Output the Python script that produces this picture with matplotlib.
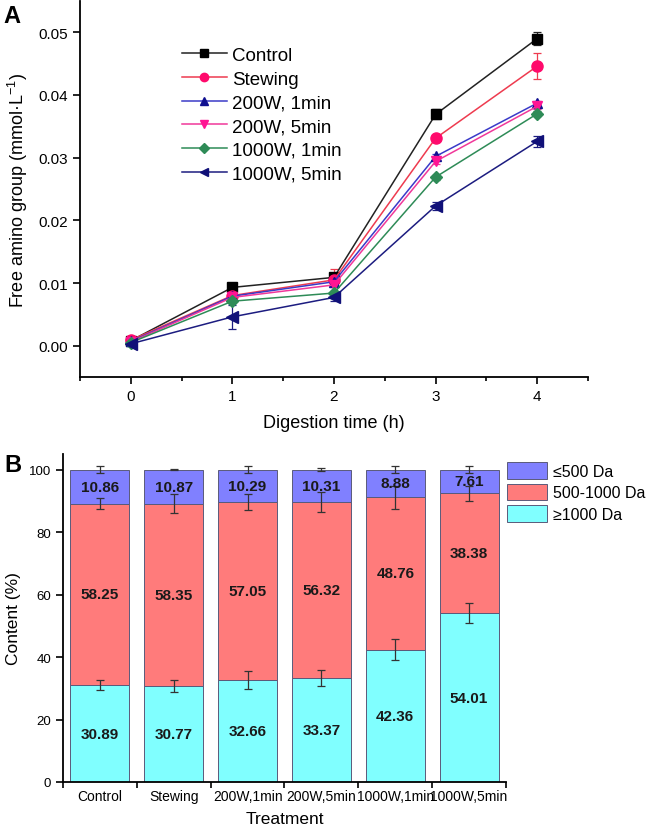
import matplotlib
matplotlib.use('Agg')
import matplotlib.pyplot as plt
import numpy as np

# --------------------------
# global settings
# --------------------------
plt.rcParams['font.family'] = ['Liberation Sans', 'DejaVu Sans']
plt.rcParams['mathtext.fontset'] = 'custom'
plt.rcParams['mathtext.rm'] = 'Liberation Sans'
plt.rcParams['axes.linewidth'] = 1.3

# ==========================
# data, panel A
# ==========================
times = [0, 1, 2, 3, 4]
series_names = ['Control', 'Stewing', '200W, 1min', '200W, 5min', '1000W, 1min', '1000W, 5min']
control = [0.0008, 0.0093, 0.0109, 0.0369, 0.0490]
stewing = [0.0009, 0.0080, 0.0105, 0.0331, 0.0446]
w200_1 = [0.0007, 0.0079, 0.0102, 0.0302, 0.0387]
w200_5 = [0.0006, 0.0077, 0.0097, 0.0294, 0.0382]
w1000_1 = [0.0005, 0.0071, 0.0084, 0.0269, 0.0370]
w1000_5 = [0.0003, 0.0046, 0.0077, 0.0223, 0.0326]
control_err = [0.0002, 0.0003, 0.0003, 0.0008, 0.0010]
stewing_err = [0.0002, 0.0004, 0.0018, 0.0005, 0.0021]
w200_1_err = [0.0002, 0.0003, 0.0003, 0.0004, 0.0004]
w200_5_err = [0.0002, 0.0003, 0.0003, 0.0004, 0.0004]
w1000_1_err = [0.0002, 0.0003, 0.0003, 0.0004, 0.0004]
w1000_5_err = [0.0002, 0.0019, 0.0005, 0.0006, 0.0009]

# ==========================
# data, panel B
# ==========================
treatments = ['Control', 'Stewing', '200W,1min', '200W,5min', '1000W,1min', '1000W,5min']
big = [30.89, 30.77, 32.66, 33.37, 42.36, 54.01]      # >=1000 Da
mid = [58.25, 58.35, 57.05, 56.32, 48.76, 38.38]      # 500-1000 Da
small = [10.86, 10.87, 10.29, 10.31, 8.88, 7.61]      # <=500 Da
big_err = [1.6, 2.0, 2.8, 2.5, 3.4, 3.2]
mid_err = [1.9, 3.0, 2.5, 3.2, 3.6, 2.4]
small_err = [1.2, 0.2, 1.0, 0.6, 1.2, 1.0]

fig = plt.figure(figsize=(6.46, 8.29), dpi=100)

# --------------------------
# panel A: line chart
# --------------------------
axA = fig.add_axes([0.1238, 0.544, 0.7864, 0.4536])
line_data = [control, stewing, w200_1, w200_5, w1000_1, w1000_5]
err_data = [control_err, stewing_err, w200_1_err, w200_5_err, w1000_1_err, w1000_5_err]
line_cols = ['#222222', '#ee3b4f', '#3a3ac8', '#f0389a', '#2e8b57', '#1c1c80']
mark_cols = ['#000000', '#ff0a6c', '#101090', '#ff1493', '#2e8b57', '#101078']
markers = ['s', 'o', '^', 'v', 'D', '<']
msizes = [7, 8, 7.5, 7.5, 6.5, 8]
for vals, errs, name, lc, mc, mk, ms in zip(line_data, err_data, series_names,
                                            line_cols, mark_cols, markers, msizes):
    axA.errorbar(times, vals, yerr=errs, color=lc, lw=1.1, marker=mk, ms=ms,
                 mfc=mc, mec=mc, ecolor=lc, elinewidth=0.9, capsize=3,
                 capthick=0.9, label=name)

axA.set_xlim(-0.5, 4.5)
axA.set_ylim(-0.005, 0.055)
axA.set_xticks([0, 1, 2, 3, 4])
axA.set_xticks([-0.5, 0.5, 1.5, 2.5, 3.5, 4.5], minor=True)
axA.set_yticks([0.00, 0.01, 0.02, 0.03, 0.04, 0.05])
axA.set_yticklabels(['0.00', '0.01', '0.02', '0.03', '0.04', '0.05'])
axA.spines['top'].set_visible(False)
axA.spines['right'].set_visible(False)
axA.tick_params(axis='both', which='major', labelsize=11, length=5, width=1.2)
axA.tick_params(axis='x', which='minor', length=3, width=1.2)
axA.set_xlabel('Digestion time (h)', fontsize=13, labelpad=8)
axA.set_ylabel(r'Free amino group (mmol·L$^{-1}$)', fontsize=13, labelpad=6)

handles, labels = axA.get_legend_handles_labels()
handles = [h[0] for h in handles]
axA.legend(handles, labels, loc='upper left', bbox_to_anchor=(0.2, 0.878),
           frameon=False, fontsize=13.5, handlelength=2.4, handletextpad=0.3,
           labelspacing=0.35, borderpad=0, borderaxespad=0, markerscale=0.75)

fig.text(0.006, 0.994, 'A', fontsize=17, fontweight='bold', va='top', ha='left')

# --------------------------
# panel B: stacked bars
# --------------------------
axB = fig.add_axes([0.0975, 0.0555, 0.6858, 0.3957])
x = np.arange(len(treatments))
w = 0.8
c_small, c_mid, c_big = '#8080ff', '#ff7b7b', '#80ffff'
edge = '#5a5a7a'
big_arr = np.array(big)
mid_arr = np.array(mid)
small_arr = np.array(small)
axB.bar(x, big_arr, w, color=c_big, edgecolor=edge, linewidth=0.7, label='≥1000 Da')
axB.bar(x, mid_arr, w, bottom=big_arr, color=c_mid, edgecolor=edge, linewidth=0.7,
        label='500-1000 Da')
axB.bar(x, small_arr, w, bottom=big_arr + mid_arr, color=c_small, edgecolor=edge,
        linewidth=0.7, label='≤500 Da')

axB.errorbar(x, big_arr, yerr=big_err, fmt='none', ecolor='#333333', elinewidth=0.9,
             capsize=3, capthick=0.9)
axB.errorbar(x, big_arr + mid_arr, yerr=mid_err, fmt='none', ecolor='#333333',
             elinewidth=0.9, capsize=3, capthick=0.9)
axB.errorbar(x, big_arr + mid_arr + small_arr, yerr=small_err, fmt='none',
             ecolor='#333333', elinewidth=0.9, capsize=3, capthick=0.9)

for i in range(len(treatments)):
    axB.text(x[i], big[i] / 2, f'{big[i]:.2f}', ha='center', va='center',
             fontsize=11, fontweight='bold', color='#1a1a1a')
    axB.text(x[i], big[i] + mid[i] / 2, f'{mid[i]:.2f}', ha='center', va='center',
             fontsize=11, fontweight='bold', color='#1a1a1a')
    axB.text(x[i], big[i] + mid[i] + small[i] / 2, f'{small[i]:.2f}', ha='center',
             va='center', fontsize=11, fontweight='bold', color='#1a1a1a')

axB.set_xlim(-0.5, len(treatments) - 0.5)
axB.set_ylim(0, 105)
axB.set_yticks([0, 20, 40, 60, 80, 100])
axB.set_xticks(x)
axB.set_xticklabels(treatments)
axB.set_xticks(np.arange(-0.5, len(treatments)), minor=True)
axB.spines['top'].set_visible(False)
axB.spines['right'].set_visible(False)
axB.tick_params(axis='x', which='major', length=0, labelsize=10, pad=5)
axB.tick_params(axis='x', which='minor', length=4, width=1.2)
axB.tick_params(axis='y', which='major', length=5, width=1.2, labelsize=9.5)
axB.set_xlabel('Treatment', fontsize=12.5, labelpad=6)
axB.set_ylabel('Content (%)', fontsize=12.5, labelpad=6)

hB, lB = axB.get_legend_handles_labels()
fig.legend(hB[::-1], lB[::-1], loc='upper left', bbox_to_anchor=(0.785, 0.441),
           frameon=False, fontsize=11.5, handlelength=2.5, handleheight=1.2,
           handletextpad=0.35, labelspacing=0.3, borderpad=0, borderaxespad=0)

fig.text(0.006, 0.452, 'B', fontsize=17, fontweight='bold', va='top', ha='left')

fig.savefig('out.png', dpi=100)
